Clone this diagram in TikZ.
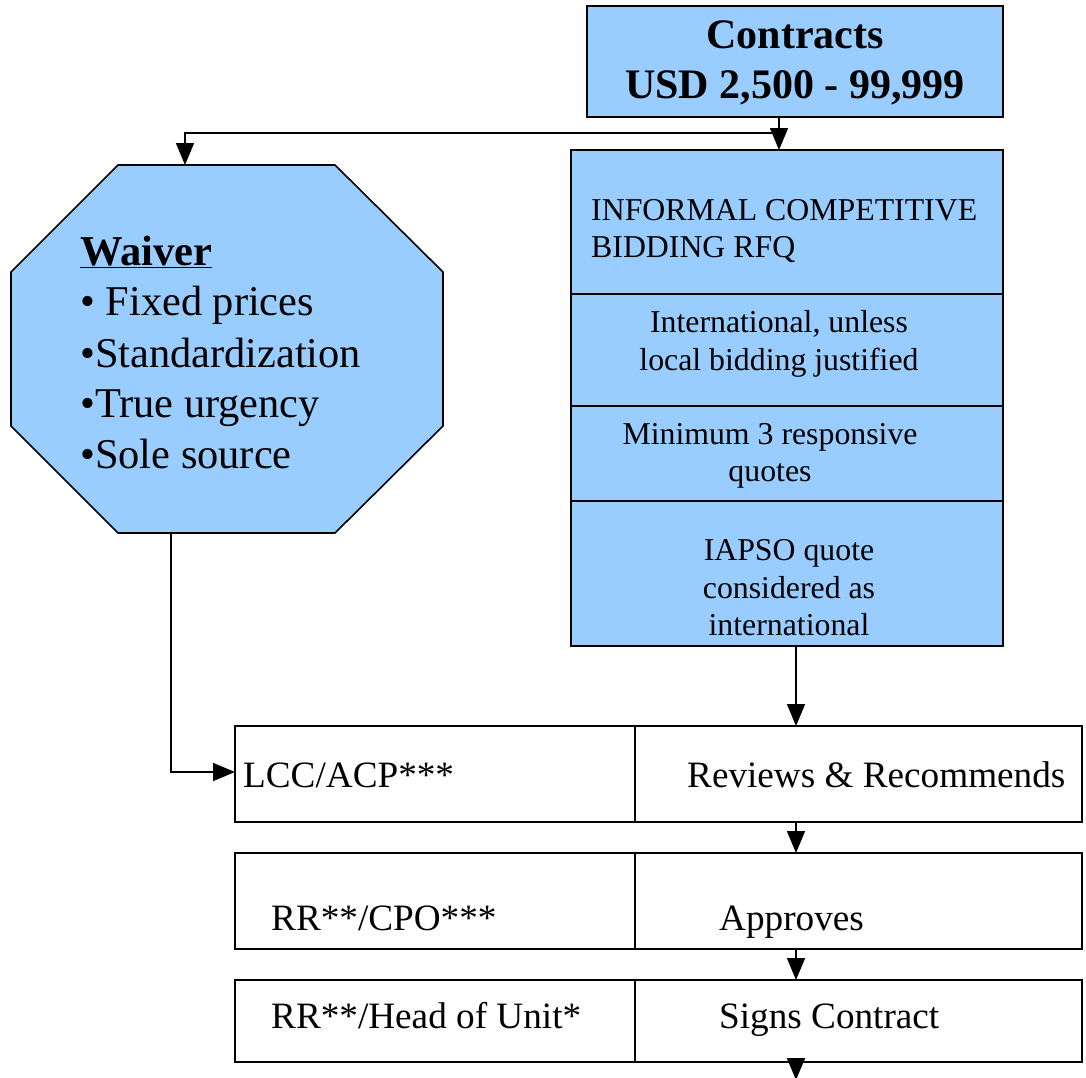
\documentclass[tikz,border=0pt]{standalone}
\usepackage{fontspec}
\setmainfont{Liberation Serif}
\usetikzlibrary{arrows.meta}
\definecolor{boxblue}{HTML}{99CCFF}

\begin{document}
\begin{tikzpicture}[x=1pt,y=-1pt,
  flow/.style={line width=1.6pt,-{Triangle[length=22pt,width=18pt]}},
  bluebox/.style={draw,line width=1.6pt,fill=boxblue,anchor=north west,inner sep=0pt,outer sep=0pt},
  rowbox/.style={draw,line width=1.6pt,fill=white,anchor=north west,inner sep=0pt,outer sep=0pt},
  sectext/.style={font=\fontsize{31.8}{37.5}\selectfont,align=center,inner sep=0pt},
  rowtext/.style={font=\fontsize{37.2}{44}\selectfont,anchor=base west,inner sep=0pt},
  waivtext/.style={font=\fontsize{42.4}{51}\selectfont,anchor=base west,inner sep=0pt},
]
\useasboundingbox (0,0) rectangle (1086,1077);

% contract value box
\node[bluebox,minimum width=416pt,minimum height=111pt] (contracts) at (587,6) {};
\node[font=\fontsize{42}{50}\selectfont\bfseries,align=center,inner sep=0pt] (contractsT)
  at (795,63) {Contracts\\USD 2,500 - 99,999};

% informal competitive bidding stack
\node[bluebox,minimum width=432pt,minimum height=144pt] (sec1) at (571,150) {};
\node[bluebox,minimum width=432pt,minimum height=112pt] (sec2) at (571,294) {};
\node[bluebox,minimum width=432pt,minimum height=95pt]  (sec3) at (571,406) {};
\node[bluebox,minimum width=432pt,minimum height=145pt] (sec4) at (571,501) {};
\node[sectext,align=left,anchor=west] (sec1T) at (591,231) {INFORMAL COMPETITIVE\\BIDDING RFQ};
\node[sectext] (sec2T) at (779,344) {International, unless\\local bidding justified};
\node[sectext] (sec3T) at (770,456) {Minimum 3 responsive\\quotes};
\node[sectext] (sec4T) at (789,588) {IAPSO quote\\considered as\\international};

% waiver octagon
\filldraw[line width=1.6pt,fill=boxblue]
  (118,165) -- (335,165) -- (443,272) -- (443,426) -- (335,533)
  -- (118,533) -- (11,426) -- (11,272) -- cycle;
\coordinate (wtop) at (185,165);
\coordinate (wbot) at (171,533);
\node[waivtext,font=\fontsize{42.5}{51}\selectfont\bfseries] (wv0) at (80,265) {\underline{Waiver}};
\node[waivtext] (wv1) at (80,315) {• Fixed prices};
\node[waivtext] (wv2) at (80,367) {•Standardization};
\node[waivtext] (wv3) at (80,417) {•True urgency};
\node[waivtext] (wv4) at (80,468) {•Sole source};

% responsibility rows
\node[rowbox,minimum width=400pt,minimum height=96pt] (r1a) at (235,726) {};
\node[rowbox,minimum width=447pt,minimum height=96pt] (r1b) at (635,726) {};
\node[rowbox,minimum width=400pt,minimum height=96pt] (r2a) at (235,853) {};
\node[rowbox,minimum width=447pt,minimum height=96pt] (r2b) at (635,853) {};
\node[rowbox,minimum width=400pt,minimum height=82pt] (r3a) at (235,980) {};
\node[rowbox,minimum width=447pt,minimum height=82pt] (r3b) at (635,980) {};

\node[rowtext] (r1aT) at (243,787) {LCC/ACP***};
\node[rowtext] (r1bT) at (687,787) {Reviews \& Recommends};
\node[rowtext] (r2aT) at (271,930) {RR**/CPO***};
\node[rowtext] (r2bT) at (719,930) {Approves};
\node[rowtext] (r3aT) at (271,1028) {RR**/Head of Unit*};
\node[rowtext] (r3bT) at (719,1028) {Signs Contract};

% connectors
\coordinate (split) at (779,133);
\coordinate (col) at (796,0);
\coordinate (endpt) at (796,1080);
\draw[flow] (contracts.south -| split) -- (split) -- (sec1.north -| split);
\draw[flow] (split) -| (wtop);
\draw[flow] (wbot) |- (r1a.west |- 0,772);
\draw[flow] (sec4.south -| col) -- (r1b.north -| col);
\draw[flow] (r1b.south -| col) -- (r2b.north -| col);
\draw[flow] (r2b.south -| col) -- (r3b.north -| col);
\draw[flow] (r3b.south -| col) -- (endpt);
\end{tikzpicture}
\end{document}
